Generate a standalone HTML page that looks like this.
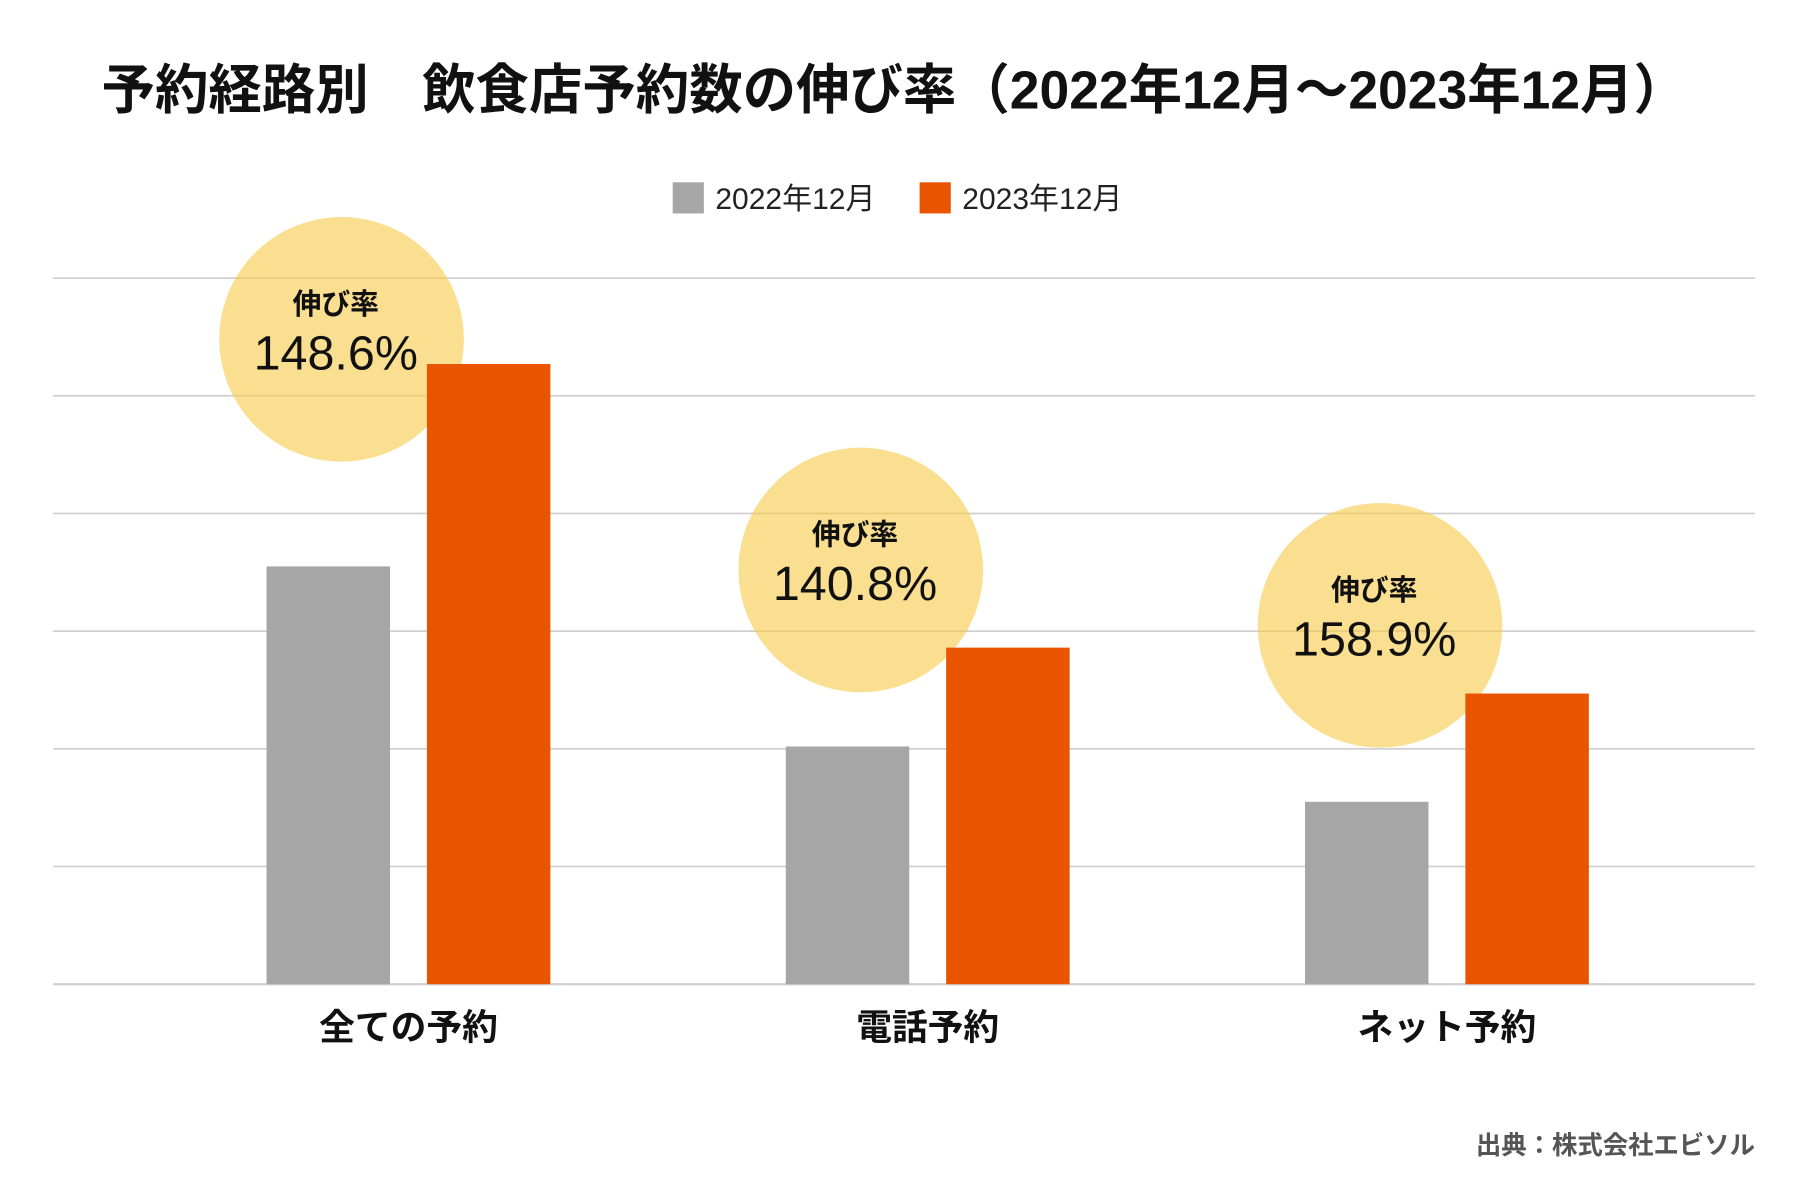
<!DOCTYPE html>
<html><head><meta charset="utf-8">
<style>
html,body{margin:0;padding:0;background:#fff;}
svg{display:block;font-family:"Liberation Sans","Noto Sans CJK JP",sans-serif;}
</style></head>
<body>
<svg id="chart" width="1800" height="1200" viewBox="0 0 1560 1040" xmlns="http://www.w3.org/2000/svg">
<text x="775" y="94" text-anchor="middle" font-size="47" font-weight="bold" fill="#111" textLength="1374" lengthAdjust="spacingAndGlyphs">予約経路別　飲食店予約数の伸び率（2022年12月〜2023年12月）</text>
<g>
<rect x="583" y="158" width="27" height="27" fill="#a6a6a6"/>
<text x="620" y="181" font-size="26" fill="#222">2022年12月</text>
<rect x="797" y="158" width="27" height="27" fill="#e85400"/>
<text x="834" y="181" font-size="26" fill="#222">2023年12月</text>
</g>
<g id="grid"></g>
<g id="bubbles"></g>
<g id="bars"></g>
<g id="bubbletext"></g>
<g id="xlabels"></g>
<text x="1521" y="1000" text-anchor="end" font-size="22" font-weight="bold" fill="#555">出典：株式会社エビソル</text>
</svg>
<script>
const categories = ["全ての予約", "電話予約", "ネット予約"];
const values2022 = [355, 202, 155];
const values2023 = [527, 286, 247];
const growthRates = ["148.6%", "140.8%", "158.9%"];
const bubbleLevels = [548, 352, 305];
const gridTicks = [0, 100, 200, 300, 400, 500, 600];

const NS = "http://www.w3.org/2000/svg";
const plotL = 46, plotR = 1521, baseY = 853, pxPerUnit = 102 / 100;
const y = v => baseY - v * pxPerUnit;
const firstCenter = 354, groupSpacing = 450;
const gx = i => firstCenter + groupSpacing * i;
const barW = 107;
function mk(tag, attrs, parent) {
  const e = document.createElementNS(NS, tag);
  for (const k in attrs) e.setAttribute(k, attrs[k]);
  parent.appendChild(e);
  return e;
}
const grid = document.getElementById("grid");
gridTicks.forEach(t => {
  const l = mk("line", {x1: plotL, x2: plotR, y1: y(t), y2: y(t), stroke: "#d0d0d0", "stroke-width": t === 0 ? 2 : 1.5}, grid);
  
  
});
const bars = document.getElementById("bars");
const bubbles = document.getElementById("bubbles");
const btext = document.getElementById("bubbletext");
const xl = document.getElementById("xlabels");
categories.forEach((c, i) => {
  const cx = gx(i);
  const b1 = mk("rect", {x: cx - 123, y: y(values2022[i]), width: barW, height: y(0) - y(values2022[i]), fill: "#a6a6a6"}, bars);
  
  
  const b2 = mk("rect", {x: cx + 16, y: y(values2023[i]), width: barW, height: y(0) - y(values2023[i]), fill: "#e85400"}, bars);
  
  
  const cy = y(bubbleLevels[i]);
  const bx = cx - 58;
  const circ = mk("circle", {cx: bx, cy: cy, r: 106, fill: "#f7c948", "fill-opacity": 0.6}, bubbles);
  
  
  const t1 = mk("text", {x: bx - 5, y: cy - 22, "text-anchor": "middle", "font-size": 25, "font-weight": "bold", fill: "#111"}, btext);
  t1.textContent = "伸び率";
  
  
  const t2 = mk("text", {x: bx - 5, y: cy + 26, "text-anchor": "middle", "font-size": 42, fill: "#111"}, btext);
  t2.textContent = growthRates[i];
  
  
  const lab = mk("text", {x: cx, y: 901, "text-anchor": "middle", "font-size": 31, "font-weight": "bold", fill: "#111"}, xl);
  lab.textContent = c;
  
  
});
</script>
</body></html>
